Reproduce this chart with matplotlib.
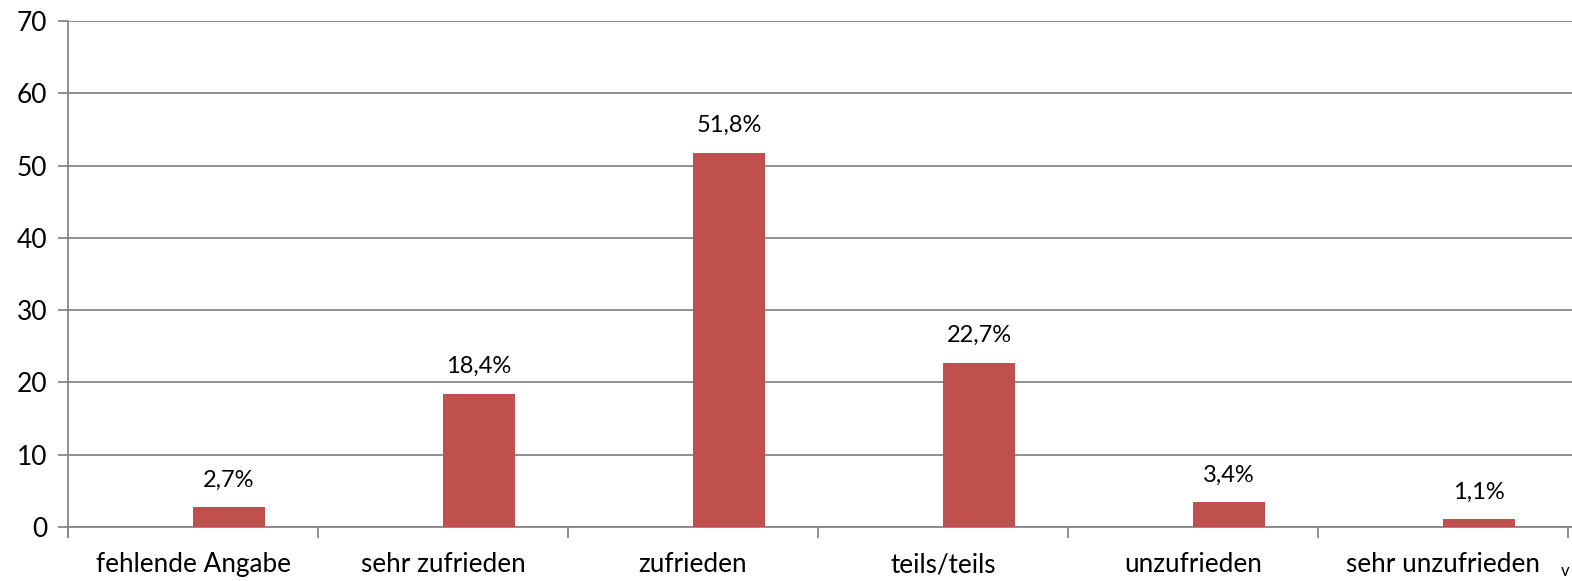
import matplotlib
matplotlib.use("Agg")
from matplotlib import pyplot as plt
import numpy as np

categories = ["fehlende Angabe", "sehr zufrieden", "zufrieden", "teils/teils",
              "unzufrieden", "sehr unzufrieden"]
values = [2.7, 18.4, 51.8, 22.7, 3.4, 1.1]
value_labels = ["2,7%", "18,4%", "51,8%", "22,7%", "3,4%", "1,1%"]
yticks = [0, 10, 20, 30, 40, 50, 60, 70]

plt.rcParams['font.family'] = ['Lato', 'DejaVu Sans']

bar_col = "#C0504D"
grid_col = "#878787"

fig = plt.figure(figsize=(15.72, 5.81), dpi=100)
ax = fig.add_axes([68/1572, 54/581, 1 - 68/1572, 506/581])

x = np.arange(len(categories))
bars = ax.bar(x, values, width=0.288, align='edge', color=bar_col, zorder=3)

for b, lab in zip(bars, value_labels):
    ax.annotate(lab, (b.get_x() + b.get_width()/2, b.get_height()),
                xytext=(0, 12), textcoords='offset points',
                ha='center', va='bottom', fontsize=17, color='black')

ax.set_xlim(-0.5, 5.5 + 4/250)
ax.set_ylim(0, 70)
ax.set_yticks(yticks)
ax.set_yticklabels([str(t) for t in yticks], fontsize=19)
ax.yaxis.grid(True, color=grid_col, linewidth=1.3, zorder=0)

# category boundaries get the ticks, labels sit in between
ax.set_xticks(np.arange(len(categories) + 1) - 0.5)
ax.set_xticklabels([])
ax.set_xticks(x, minor=True)
ax.set_xticklabels(categories, minor=True, fontsize=18.8)
ax.tick_params(axis='x', which='minor', length=0, pad=18)
ax.tick_params(axis='x', which='major', length=8, width=1.3, color=grid_col)
ax.tick_params(axis='y', length=7, width=1.3, color=grid_col, pad=8)

for side in ['top', 'right']:
    ax.spines[side].set_visible(False)
ax.spines['left'].set_color(grid_col)
ax.spines['left'].set_linewidth(1.3)
ax.spines['left'].set_bounds(-1.4, 70)
ax.spines['bottom'].set_color(grid_col)
ax.spines['bottom'].set_linewidth(1.3)
ax.spines['left'].set_clip_on(False)

fig.text(1561/1572, 1 - 576/581, "v", fontsize=12, ha='left', va='baseline')

fig.savefig("out.png", dpi=100)
